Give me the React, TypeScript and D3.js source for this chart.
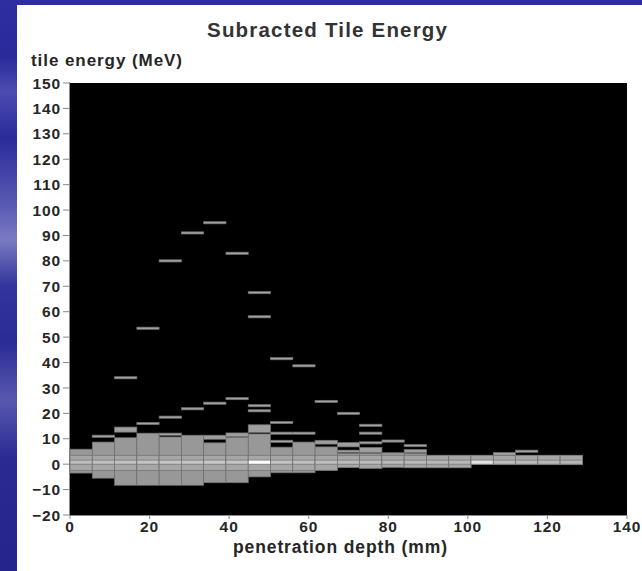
import * as d3 from "d3";

const W = 642;
const H = 571;

// x bins: 25 bins over 0..140 mm (5.6 mm each), only first 23 filled
const binWidth = 5.6;

// main band per column (MeV)
const bandLo = [-3.5, -5.5, -8.3, -8.3, -8.3, -8.3, -7.3, -7.3, -5, -3.4, -3.4, -2.4, -1.3, -1.6, -1.2, -1.4, -1.4, -1.4, -0.2, -0.2, -0.2, -0.2, -0.2];
const bandHi = [5.9, 8.7, 10.4, 12.2, 10.7, 11.4, 8.4, 10.6, 11.9, 6.7, 8.7, 6.8, 4.3, 4.3, 4.5, 4.3, 3.5, 3.5, 3.5, 3.5, 3.5, 3.5, 3.5];
// brightness of the strip around zero
const coreGray = ["#bdbdbd", "#c0c0c0", "#c2c2c2", "#c4c4c4", "#c6c6c6", "#c6c6c6", "#c8c8c8", "#c6c6c6", "#ffffff", "#c4c4c4", "#c0c0c0", "#bebebe", "#bcbcbc", "#bcbcbc", "#bababa", "#bababa", "#b8b8b8", "#b8b8b8", "#e2e2e2", "#bdbdbd", "#bababa", "#b8b8b8", "#b6b6b6"];

// extra blocks above the band: [column, low, high]
const blocks: [number, number, number][] = [
  [2, 12.6, 14.6],
  [6, 9.8, 11.4],
  [7, 10.8, 12.3],
  [8, 12.5, 15.5],
  [11, 7.9, 9.4],
  [12, 6.8, 8.5],
  [13, 4.5, 6.6],
  [15, 4.5, 5.8],
  [19, 3.5, 4.6],
];

// single-bin entries: [column, energy]
const singles: [number, number][] = [
  [1, 11],
  [2, 34],
  [3, 16],
  [3, 53.5],
  [4, 11.8],
  [4, 18.5],
  [4, 80],
  [5, 21.8],
  [5, 91],
  [6, 24],
  [6, 95],
  [7, 25.8],
  [7, 83],
  [8, 21],
  [8, 23],
  [8, 58],
  [8, 67.5],
  [9, 9],
  [9, 12.2],
  [9, 16.4],
  [9, 41.5],
  [10, 12.2],
  [10, 38.7],
  [11, 24.7],
  [12, 5.1],
  [12, 20],
  [13, 8.4],
  [13, 12.2],
  [13, 15.3],
  [14, 9.1],
  [15, 7.3],
  [20, 5.1],
];

const yTicks = d3.range(-20, 151, 10);
const xTicks = d3.range(0, 141, 20);

const font = "'Liberation Sans', Arial, Helvetica, sans-serif";

export default function App() {
  const x = d3.scaleLinear().domain([0, 140]).range([70, 627]);
  const y = d3.scaleLinear().domain([-20, 150]).range([515, 83]);

  const colX = (i: number) => x(i * binWidth);
  const colW = (i: number) => x((i + 1) * binWidth) - x(i * binWidth);
  const singleH = 0.85;

  const cells: { key: string; x: number; y: number; w: number; h: number; fill: string }[] = [];
  bandLo.forEach((lo, i) => {
    const hi = bandHi[i];
    cells.push({ key: `b${i}`, x: colX(i), y: y(hi), w: colW(i), h: y(lo) - y(hi), fill: "#989898" });
    const mLo = Math.max(lo, -2.5);
    const mHi = Math.min(hi, 3.5);
    cells.push({ key: `m${i}`, x: colX(i), y: y(mHi), w: colW(i), h: y(mLo) - y(mHi), fill: "#a6a6a6" });
    cells.push({ key: `c${i}`, x: colX(i), y: y(1.6), w: colW(i), h: y(0) - y(1.6), fill: coreGray[i] });
  });
  blocks.forEach(([c, lo, hi], k) => {
    cells.push({ key: `k${k}`, x: colX(c), y: y(hi), w: colW(c), h: y(lo) - y(hi), fill: "#9e9e9e" });
  });
  singles.forEach(([c, v], k) => {
    cells.push({ key: `s${k}`, x: colX(c), y: y(v + singleH / 2), w: colW(c), h: y(v - singleH / 2) - y(v + singleH / 2), fill: "#a4a4a4" });
  });

  return (
    <svg width={W} height={H} style={{ position: "absolute", left: 0, top: 0 }}>
      <defs>
        <linearGradient id="bg" x1="0" y1="0" x2="0" y2="1">
          <stop offset="0" stopColor="#2e2ea2" />
          <stop offset="0.1" stopColor="#2a2a9c" />
          <stop offset="0.16" stopColor="#4c4cb0" />
          <stop offset="0.24" stopColor="#2a2a9a" />
          <stop offset="0.36" stopColor="#5a5ab4" />
          <stop offset="0.42" stopColor="#7a7ac2" />
          <stop offset="0.5" stopColor="#34349e" />
          <stop offset="0.6" stopColor="#2b2b96" />
          <stop offset="0.7" stopColor="#5858b0" />
          <stop offset="0.8" stopColor="#2a2a92" />
          <stop offset="1" stopColor="#24248c" />
        </linearGradient>
      </defs>
      <rect x={0} y={0} width={W} height={H} fill="url(#bg)" />
      <rect x={17} y={5} width={W - 17} height={H - 5} fill="#ffffff" />

      <text x={207} y={37} fontFamily={font} fontWeight="bold" fontSize={20.5} fill="#333" textLength={240} lengthAdjust="spacing">
        Subracted Tile Energy
      </text>
      <text x={31} y={66} fontFamily={font} fontWeight="bold" fontSize={17} fill="#262626" textLength={151} lengthAdjust="spacing">
        tile energy (MeV)
      </text>

      <rect x={70} y={83} width={557} height={432} fill="#000" />
      <line x1={69.5} x2={69.5} y1={82} y2={516} stroke="#888" />
      <line x1={69} x2={627} y1={515.5} y2={515.5} stroke="#888" />

      {cells.map((c) => (
        <rect key={c.key} x={c.x} y={c.y} width={c.w} height={c.h} fill={c.fill} stroke="#707070" strokeWidth={0.7} />
      ))}

      {yTicks.map((t) => (
        <g key={`yt${t}`}>
          <line x1={63} x2={69} y1={y(t)} y2={y(t)} stroke="#888" />
          <text x={61} y={y(t)} dy="0.36em" textAnchor="end" fontFamily={font} fontWeight="bold" fontSize={15.5} letterSpacing={0.9} fill="#262626">
            {t < 0 ? `\u2212${-t}` : t}
          </text>
        </g>
      ))}
      {xTicks.map((t) => (
        <g key={`xt${t}`}>
          <line x1={x(t)} x2={x(t)} y1={515} y2={519} stroke="#888" />
          <text x={x(t)} y={532} textAnchor="middle" fontFamily={font} fontWeight="bold" fontSize={15.5} letterSpacing={0.9} fill="#262626">
            {t}
          </text>
        </g>
      ))}
      <text x={233} y={553} fontFamily={font} fontWeight="bold" fontSize={17.5} fill="#262626" textLength={214} lengthAdjust="spacing">
        penetration depth (mm)
      </text>
    </svg>
  );
}
